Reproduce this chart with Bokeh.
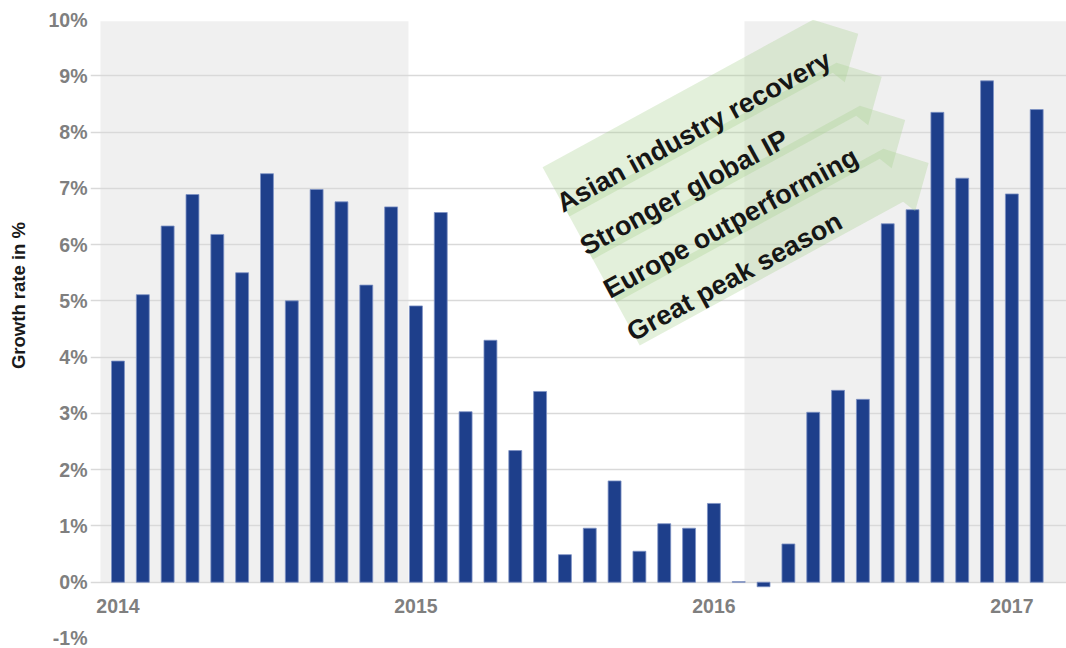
import math
from bokeh.plotting import figure
from bokeh.layouts import row
from bokeh.models import Range1d, FixedTicker, PrintfTickFormatter, ColumnDataSource
from bokeh.core.properties import value
from bokeh.embed import file_html
from bokeh.resources import INLINE

# ---------------- data ----------------
months = [f"{2014 + i // 12}-{i % 12 + 1:02d}" for i in range(38)]
growth = [3.93, 5.11, 6.33, 6.89, 6.18, 5.50, 7.26, 5.00, 6.98, 6.76, 5.28, 6.67,
          4.91, 6.57, 3.03, 4.30, 2.34, 3.39, 0.49, 0.96, 1.80, 0.55, 1.04, 0.96,
          1.40, 0.01, -0.08, 0.68, 3.02, 3.41, 3.25, 6.37, 6.62, 8.35, 7.18, 8.91,
          6.90, 8.40]
year_index = [0, 12, 24, 36]
year_labels = ["2014", "2015", "2016", "2017"]
band_start = [-0.705, 25.23]
band_end = [11.70, 38.30]
y_ticks = [-1, 0, 1, 2, 3, 4, 5, 6, 7, 8, 9, 10]
drivers = ["Asian industry recovery", "Stronger global IP",
           "Europe outperforming", "Great peak season"]
y_title = "Growth rate in %"

# ---------------- layout ----------------
TOTAL_W, H = 1066, 648
LABEL_W = 40
W = TOTAL_W - LABEL_W
LEFT, TOP, BOTTOM = 50, 19, 10
x_start = -1.107
px_x = 24.83
frame_w = W - LEFT
x_end = x_start + frame_w / px_x
y_start, y_end = -1.0, 10.0
frame_h = H - TOP - BOTTOM
px_y = frame_h / (y_end - y_start)

FONT = "Liberation Sans"
GRAY = "#7f7f7f"

# narrow panel carrying the vertical axis title
lf = figure(width=LABEL_W, height=H, output_backend="svg", toolbar_location=None,
            x_range=Range1d(0, LABEL_W), y_range=Range1d(0, H),
            x_axis_location=None, y_axis_location=None,
            min_border_left=0, min_border_right=0, min_border_top=0, min_border_bottom=0)
lf.outline_line_color = None
lf.grid.visible = False
lf.text(x=[18], y=[H - 289], text=[y_title], angle=math.pi / 2,
        text_align="center", text_baseline="middle", text_font=value(FONT),
        text_font_style="bold", text_font_size="18.5px", text_color="#1a1a1a")

p = figure(width=W, height=H, output_backend="svg", toolbar_location=None,
           x_range=Range1d(x_start, x_end), y_range=Range1d(y_start, y_end),
           x_axis_location=None, min_border_left=LEFT, min_border_right=0,
           min_border_top=TOP, min_border_bottom=BOTTOM)
p.outline_line_color = None
p.background_fill_color = "white"
p.border_fill_color = "white"

# y axis
ax = p.yaxis[0]
ax.ticker = FixedTicker(ticks=y_ticks)
ax.formatter = PrintfTickFormatter(format="%d%%")
ax.axis_line_color = None
ax.major_tick_line_color = None
ax.minor_tick_line_color = None
ax.major_tick_out = 0
ax.major_tick_in = 0
ax.major_label_standoff = 3
ax.major_label_text_font = FONT
ax.major_label_text_font_style = "bold"
ax.major_label_text_font_size = "19.5px"
ax.major_label_text_color = GRAY

p.ygrid.grid_line_color = "#d9d9d9"
p.ygrid.grid_line_width = 1.5
p.xgrid.visible = False

# shaded periods
p.quad(left=band_start, right=band_end, bottom=0, top=9.97,
       fill_color="#f0f0f0", line_color=None, level="image")

# bars
src = ColumnDataSource(dict(x=list(range(len(growth))), top=growth, month=months))
p.vbar(x="x", top="top", bottom=0, width=0.52, source=src,
       fill_color="#1e3f8b", line_color="#7d92c4", line_width=0.8)

# year labels
p.text(x=year_index, y=[-0.43] * len(year_index), text=year_labels,
       text_align="center", text_baseline="middle",
       text_font=value(FONT), text_font_style="bold",
       text_font_size="19.5px", text_color=GRAY)

# ---------------- driver arrows ----------------
theta = math.radians(28.6)
ux, uy = math.cos(theta), math.sin(theta)
nx, ny = math.sin(theta), -math.cos(theta)
anchor_x, anchor_y = 17.10, 7.375
step = 49.0
shape = [(0, 0), (308, 0), (341, 34), (306, 70), (300, 56), (0, 56)]


def to_data(a, b):
    return (anchor_x + (a * ux + b * nx) / px_x,
            anchor_y + (a * uy + b * ny) / px_y)


xs, ys = [], []
for k in range(len(drivers)):
    pts = [to_data(a, b + k * step) for a, b in shape]
    xs.append([q[0] for q in pts])
    ys.append([q[1] for q in pts])
p.patches(xs, ys, fill_color="#a9d08e", fill_alpha=0.32, line_color=None)

tx, ty = [], []
for k in range(len(drivers)):
    q = to_data(-4, 41 + k * step)
    tx.append(q[0])
    ty.append(q[1])
p.text(x=tx, y=ty, text=drivers, angle=theta, text_align="left",
       text_baseline="alphabetic", text_font=value(FONT), text_font_style="bold",
       text_font_size="27px", text_color="#161616")

layout = row(lf, p)
open("out.html", "w").write(file_html(layout, INLINE))
